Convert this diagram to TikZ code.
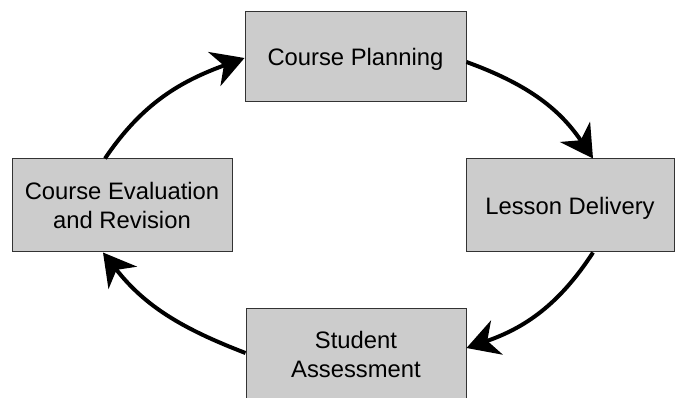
\documentclass[tikz,border=0pt]{standalone}
\usepackage{fontspec}
\setmainfont{Liberation Sans}
\usetikzlibrary{arrows.meta}
\begin{document}
\begin{tikzpicture}[x=1pt,y=-1pt,
  stagebox/.style={draw=black!80, line width=1pt, fill=black!20, inner sep=0pt,
    align=center, font=\fontsize{23.8}{29}\selectfont},
  oneline/.style={text depth=0pt},
  cyclearrow/.style={line width=4pt, -{Stealth[length=32pt,width=36pt,inset=10pt]}}]
\clip (0,0) rectangle (675,398);
\useasboundingbox (0,0) rectangle (675,398);
\node[stagebox, oneline, minimum width=221pt, minimum height=90pt] (CP) at (355.5,57) {Course Planning};
\node[stagebox, oneline, minimum width=208pt, minimum height=93pt] (LD) at (570,205.5) {Lesson Delivery};
\node[stagebox, minimum width=220pt, minimum height=93pt] (SA) at (356,354.5) {Student\\Assessment};
\node[stagebox, minimum width=220pt, minimum height=93pt] (CE) at (122,205.5) {Course Evaluation\\and Revision};
\draw[cyclearrow] ([yshift=-5pt]CP.east) to[out=-20,in=124] ([xshift=23pt]LD.north);
\draw[cyclearrow] ([xshift=23pt]LD.south) to[out=-123,in=19] ([yshift=6.5pt]SA.east);
\draw[cyclearrow] ([yshift=1.5pt]SA.west) to[out=159,in=-52] ([xshift=-19pt]CE.south);
\draw[cyclearrow] ([xshift=-17pt]CE.north) to[out=56,in=200] ([yshift=-1pt]CP.west);
\end{tikzpicture}
\end{document}
